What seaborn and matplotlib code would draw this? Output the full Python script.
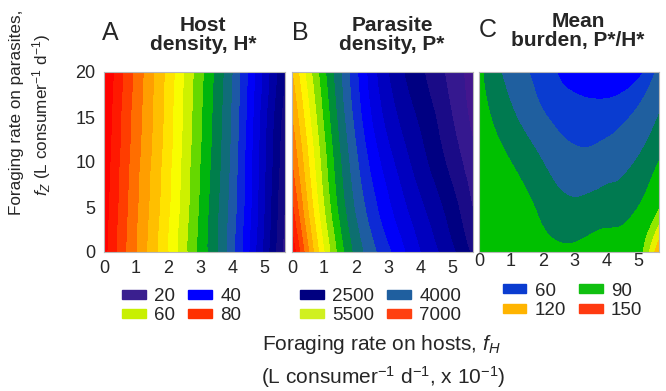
import numpy as np
import matplotlib
matplotlib.use("Agg")
import matplotlib.pyplot as plt
import matplotlib.tri as mtri
from matplotlib.colors import LinearSegmentedColormap, Normalize
from matplotlib.patches import Patch
import seaborn as sns

# grid: foraging rate on hosts (x) and on parasites (y)
fh = [0, 1, 2, 3, 4, 5, 5.7]
fz = [0, 5, 10, 15, 20]

# host density H*, one row per fz value
host_density = [
    [84, 74, 65, 55, 45, 31, 21],
    [84.5, 74.5, 65.5, 55.5, 45.5, 32, 22],
    [85, 75, 66, 56, 46, 32.5, 23],
    [85.5, 75.5, 66.5, 56.5, 46.5, 33, 24],
    [86, 76, 67, 57, 47, 34, 25],
]

# parasite density P*
parasite_density = [
    [7100, 5400, 4300, 3700, 3150, 2700, 2300],
    [6700, 5150, 4100, 3450, 2950, 2500, 2100],
    [6400, 5000, 3950, 3250, 2750, 2300, 1950],
    [6150, 4850, 3800, 3050, 2600, 2150, 1800],
    [5900, 4700, 3700, 2900, 2450, 2050, 1750],
]

# mean burden P*/H*
mean_burden = [
    [95, 92, 89, 88, 90, 95, 125],
    [93, 90, 84, 79, 82, 86, 100],
    [92, 86, 77, 70, 72, 78, 87],
    [90, 79, 69, 65, 65, 70, 78],
    [88, 73, 65, 59, 57, 60, 71],
]

legend_a = [20, 60, 40, 80]
legend_b = [2500, 5500, 4000, 7000]
legend_c = [60, 120, 90, 150]
legend_a_colors = ["#3a1f8f", "#c8f000", "#0000ff", "#ff3000"]
legend_b_colors = ["#000080", "#d0f020", "#1f5f9f", "#ff4010"]
legend_c_colors = ["#0a3cd0", "#ffb400", "#10c010", "#ff3a10"]

# band edges and colours of panel C
levels_c = [30, 62, 68, 77, 86, 100, 108, 116, 126, 200]
bands_c = ["#0000ff", "#0a3cd0", "#1f5f9f", "#007a50", "#00c000",
           "#90e800", "#e8f000", "#ffc000", "#ff8000"]

sns.set_theme(style="white")
plt.rcParams["font.family"] = ["Liberation Sans", "DejaVu Sans"]
plt.rcParams["mathtext.fontset"] = "custom"
plt.rcParams["mathtext.rm"] = "Liberation Sans"
plt.rcParams["mathtext.it"] = "Liberation Sans:italic"

cmap = LinearSegmentedColormap.from_list("rainbow_bands", [
    (0.0, "#5a0a8a"), (0.13, "#3a1a90"), (0.22, "#000080"),
    (0.40, "#0000ff"), (0.48, "#1f5f9f"), (0.55, "#007a50"),
    (0.60, "#00c000"), (0.67, "#c8f000"), (0.72, "#ffff00"),
    (0.84, "#ff9a00"), (0.93, "#ff2800"), (1.0, "#ff0000"),
])


def refine(z):
    xx, yy = np.meshgrid(fh, fz)
    tri = mtri.Triangulation(xx.ravel(), yy.ravel())
    zz = np.asarray(z, dtype=float).ravel()
    interp = mtri.CubicTriInterpolator(tri, zz)
    return mtri.UniformTriRefiner(tri).refine_field(zz, triinterpolator=interp, subdiv=4)


def style_axes(ax):
    ax.set_xlim(0, 5.65)
    ax.set_ylim(0, 20)
    ax.set_xticks(range(6))
    ax.tick_params(length=0, labelsize=13, pad=6)
    for s in ax.spines.values():
        s.set_color("#b8b8b8")
        s.set_linewidth(0.8)


def add_legend(ax, values, colors, xc, yc):
    handles = [Patch(color=c, label=str(v)) for v, c in zip(values, colors)]
    ax.legend(handles=handles, ncol=2, loc="upper center", bbox_to_anchor=(xc, yc),
              frameon=False, fontsize=13.5, handlelength=1.25, handleheight=0.35,
              handletextpad=0.45, columnspacing=0.7, labelspacing=0.12,
              borderpad=0, borderaxespad=0)


W, H = 666, 391
fig = plt.figure(figsize=(W / 100, H / 100), dpi=100)


def box(left, right, top, bottom):
    return [left / W, 1 - bottom / H, (right - left) / W, (bottom - top) / H]


ax_a = fig.add_axes(box(104, 285, 72, 252))
ax_b = fig.add_axes(box(292, 473, 72, 252))
ax_c = fig.add_axes(box(479, 659, 72, 252))

tri_a, z_a = refine(host_density)
ax_a.tricontourf(tri_a, z_a, levels=np.arange(14, 92, 3), cmap=cmap,
                 norm=Normalize(10, 85), extend="both")
tri_b, z_b = refine(parasite_density)
ax_b.tricontourf(tri_b, z_b, levels=np.arange(1400, 7300, 250), cmap=cmap,
                 norm=Normalize(1200, 7100), extend="both")
tri_c, z_c = refine(mean_burden)
ax_c.tricontourf(tri_c, z_c, levels=levels_c, colors=bands_c)

for ax in (ax_a, ax_b, ax_c):
    style_axes(ax)
ax_a.set_yticks([0, 5, 10, 15, 20])
ax_b.set_yticks([])
ax_c.set_yticks([])
ax_c.tick_params(axis="x", pad=1)

add_legend(ax_a, legend_a, legend_a_colors, 0.43, -0.2)
add_legend(ax_b, legend_b, legend_b_colors, 0.49, -0.2)
add_legend(ax_c, legend_c, legend_c_colors, 0.52, -0.17)

# panel letters and titles
for x, y, letter in [(102, 33, "A"), (292, 33, "B"), (479, 30, "C")]:
    fig.text(x / W, 1 - y / H, letter, fontsize=18, ha="left", va="center")
for x, y, title in [(203, 35, "Host\ndensity, H*"), (392, 35, "Parasite\ndensity, P*"),
                    (578, 31, "Mean\nburden, P*/H*")]:
    fig.text(x / W, 1 - y / H, title, fontsize=15, fontweight="bold",
             ha="center", va="center", linespacing=1.05)

fig.text(381 / W, 1 - 345 / H, "Foraging rate on hosts, $f_H$", fontsize=15,
         ha="center", va="center")
fig.text(383 / W, 1 - 377 / H, "(L consumer$^{-1}$ d$^{-1}$, x 10$^{-1}$)", fontsize=15,
         ha="center", va="center")
fig.text(17 / W, 1 - 112 / H, "Foraging rate on parasites,", fontsize=12.3,
         rotation=90, ha="center", va="center")
fig.text(42 / W, 1 - 115 / H, "$f_Z$ (L consumer$^{-1}$ d$^{-1}$)", fontsize=12.3,
         rotation=90, ha="center", va="center")

fig.savefig("out.png", dpi=100)
